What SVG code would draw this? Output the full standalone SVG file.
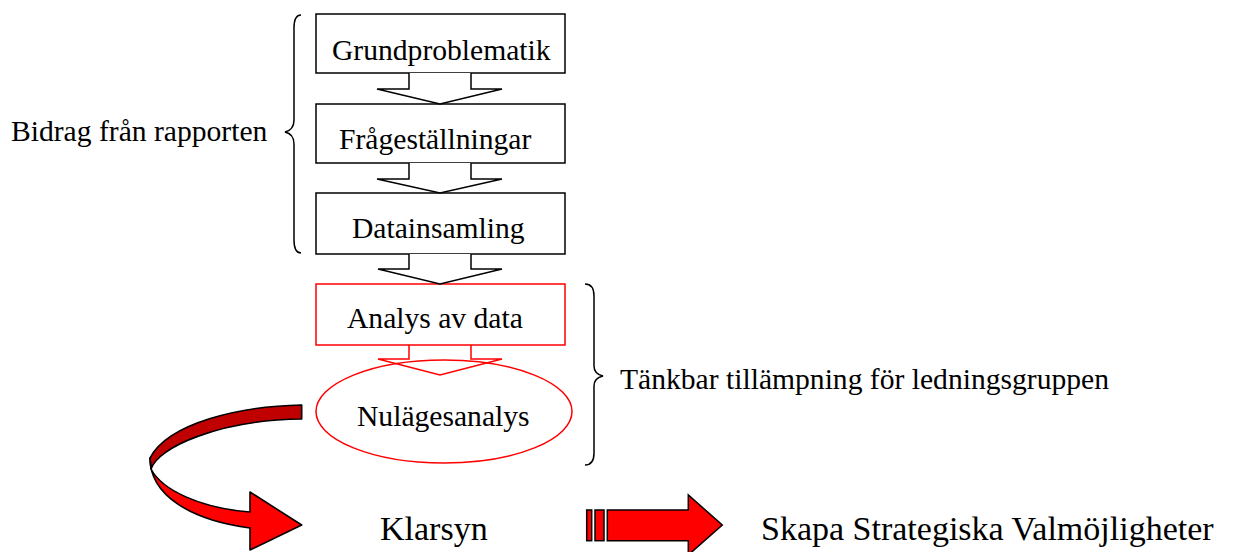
<svg xmlns="http://www.w3.org/2000/svg" width="1249" height="552" viewBox="0 0 1249 552">
  <style>
    .t { font-family: "Liberation Serif", "Times New Roman", serif; font-size: 29.6px; fill: #000; }
    .big { font-family: "Liberation Serif", "Times New Roman", serif; font-size: 34px; fill: #000; }
    .box { fill: #fff; stroke: #000; stroke-width: 1.5; }
    .redbox { fill: #fff; stroke: #f00; stroke-width: 1.5; }
    .flow { fill: #fff; stroke: #000; stroke-width: 1.5; stroke-linejoin: miter; }
    .flowred { fill: none; stroke: #f00; stroke-width: 1.5; }
    .brace { fill: none; stroke: #000; stroke-width: 1.5; }
    .ribbon { stroke: #000; stroke-width: 1.6; stroke-linejoin: round; }
  </style>

  <rect width="1249" height="552" fill="#fff"/>

  <!-- braces and their labels -->
  <g id="label-bidrag">
    <path class="brace" d="M301,15 Q294,15 294,28 L294,120 Q294,130 285,132 Q294,134 294,144 L294,240 Q294,253 301,253"/>
    <text class="t" x="11" y="141">Bidrag från rapporten</text>
  </g>
  <g id="label-tillampning">
    <path class="brace" d="M585,284 Q594,284 594,296 L594,366 Q594,374 603,376 Q594,378 594,386 L594,453 Q594,465 585,465"/>
    <text class="t" x="620" y="389">Tänkbar tillämpning för ledningsgruppen</text>
  </g>

  <!-- process steps -->
  <g id="node-grundproblematik">
    <rect class="box" x="316" y="14" width="249" height="59"/>
    <text class="t" x="332" y="60">Grundproblematik</text>
  </g>
  <g id="node-fragestallningar">
    <rect class="box" x="316" y="104" width="249" height="59"/>
    <text class="t" x="339" y="149">Frågeställningar</text>
  </g>
  <g id="node-datainsamling">
    <rect class="box" x="316" y="193" width="249" height="61"/>
    <text class="t" x="352" y="238">Datainsamling</text>
  </g>
  <g id="node-analys">
    <rect class="redbox" x="316" y="284" width="249" height="61"/>
    <text class="t" x="347" y="328">Analys av data</text>
  </g>
  <g id="node-nulagesanalys">
    <ellipse cx="444" cy="411.5" rx="128" ry="51.5" fill="#fff" stroke="#f00" stroke-width="1.5"/>
    <text class="t" x="357" y="426">Nulägesanalys</text>
  </g>
  <g id="node-klarsyn">
    <text class="big" x="380" y="540">Klarsyn</text>
  </g>
  <g id="node-valmojligheter">
    <text class="big" x="761" y="540">Skapa Strategiska Valmöjligheter</text>
  </g>

  <!-- connectors -->
  <g id="connectors">
    <path class="flow" d="M409,73 L409,89 L377,89 L440,104 L502,89 L471,89 L471,73"/>
    <path class="flow" d="M409,163 L409,179 L377,179 L440,193 L502,179 L471,179 L471,163"/>
    <path class="flow" d="M409,254 L409,269 L378,269 L440,284 L502,269 L471,269 L471,254"/>
    <path class="flowred" d="M409,345 L409,359 L378,359 L440,375 L502,359 L471,359 L471,345"/>

    <!-- curved ribbon arrow towards Klarsyn: dark back face on top, red front face below -->
    <path class="ribbon" fill="#c00000" d="M301.7,405 C240,406 168,423 150,458 L151,469 C158,447 220,420 301.7,419 Z"/>
    <path class="ribbon" fill="#ff0000" d="M151,469 C162,490 200,508 250,512 L250,492 L301.7,525 L250,550 L250,528 C190,520 150,495 150,458 Z"/>

    <!-- striped block arrow towards the strategic options -->
    <rect x="586.7" y="510" width="5" height="30.7" fill="#f00" stroke="#000" stroke-width="1.5"/>
    <rect x="595" y="510" width="9" height="30.7" fill="#f00" stroke="#000" stroke-width="1.5"/>
    <path d="M607.3,510 L688.3,510 L688.3,495 L722.3,525 L688.3,555 L688.3,540.7 L607.3,540.7 Z" fill="#f00" stroke="#000" stroke-width="1.5" stroke-linejoin="miter"/>
  </g>
</svg>
